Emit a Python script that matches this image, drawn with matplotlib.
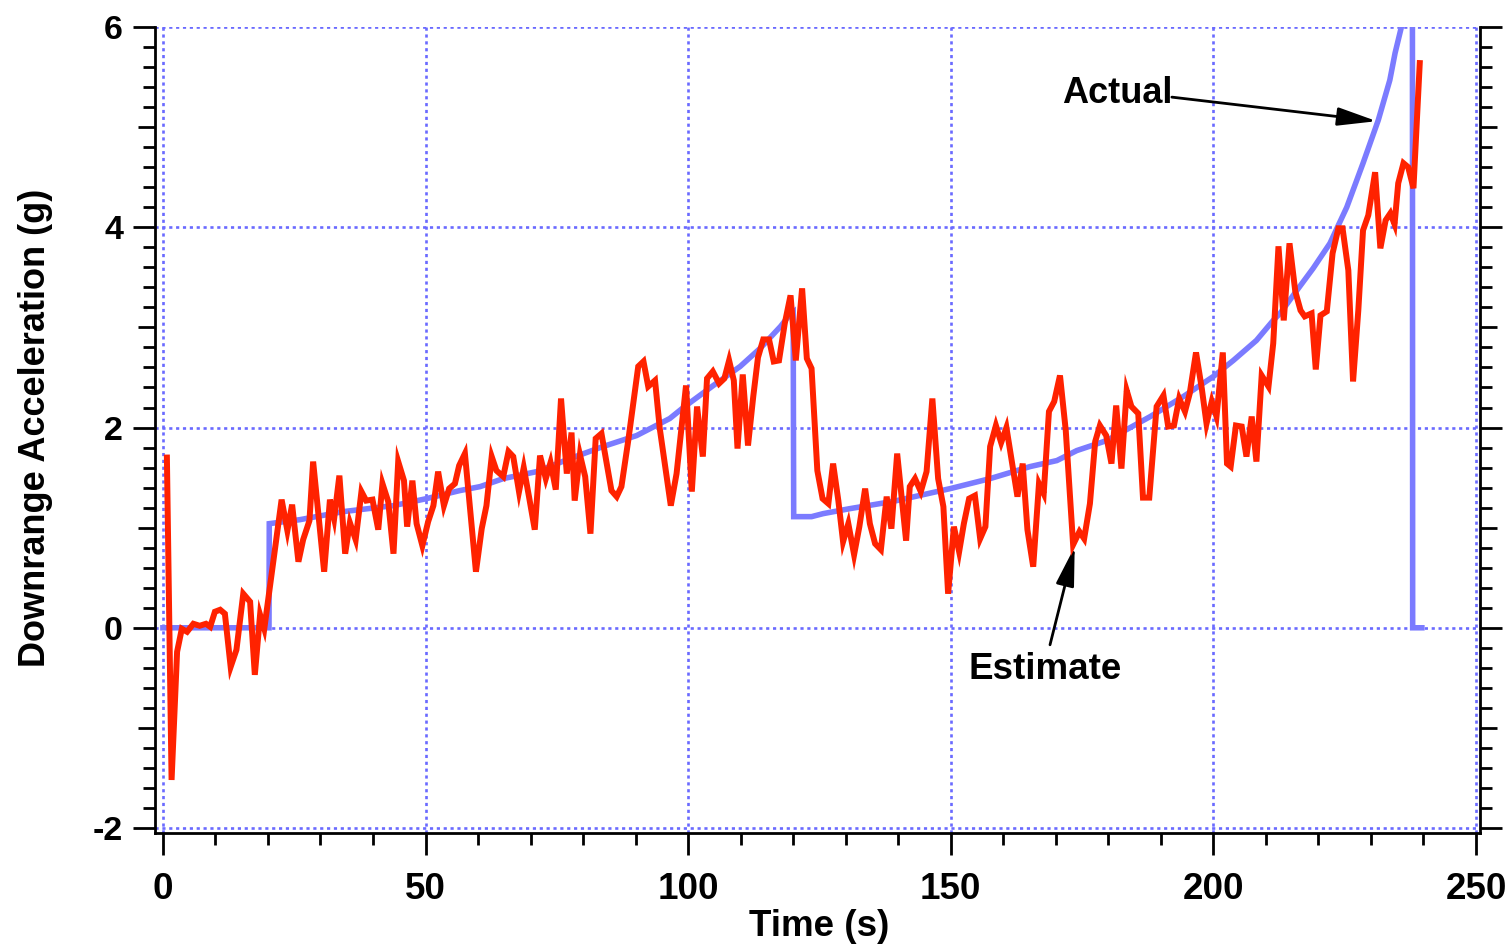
import matplotlib
matplotlib.use("Agg")
import matplotlib.pyplot as plt
import numpy as np

# ---------------- data ----------------
actual_t = [0, 20.2, 20.25, 26.1, 34.3, 43.9, 50.2, 56.5, 60.4, 64.8, 71.2, 77.5,
            83.8, 90.2, 96.5, 99.1, 104.8, 109.9, 113.7, 117.6, 119.1, 120.0,
            120.1, 123.5, 125.7, 130.8, 136.5, 139.7, 149.9, 157.5, 165.1, 170.2,
            174.0, 179.7, 188.0, 194.3, 200.0, 203.8, 208.2, 211.4, 212.7, 215.9,
            219.0, 222.2, 225.4, 228.5, 231.4, 233.6, 234.6, 235.8, 237.9, 237.95,
            239.7]
actual_g = [0, 0, 1.04, 1.08, 1.16, 1.22, 1.29, 1.37, 1.41, 1.49, 1.56, 1.69,
            1.81, 1.92, 2.09, 2.20, 2.42, 2.61, 2.79, 3.01, 3.11, 3.15,
            1.11, 1.11, 1.14, 1.19, 1.24, 1.27, 1.39, 1.49, 1.61, 1.67,
            1.77, 1.87, 2.11, 2.31, 2.51, 2.67, 2.87, 3.07, 3.14, 3.37,
            3.59, 3.84, 4.20, 4.64, 5.07, 5.47, 5.74, 6.0, 6.6, 0,
            0]

estimate_t = [0.76, 1.65, 2.7, 3.6, 4.6, 5.8, 7.0, 8.2, 9.0, 9.9, 10.9, 11.8, 12.9,
              14.0, 15.3, 16.6, 17.5, 18.5, 19.3, 22.6, 23.7, 24.6, 25.8, 26.7,
              27.9, 28.6, 30.7, 31.8, 32.6, 33.6, 34.7, 35.6, 36.7, 37.8, 38.7,
              39.9, 41.0, 41.8, 42.9, 43.9, 44.8, 45.9, 46.5, 47.5, 48.3, 49.4,
              50.5, 51.5, 52.4, 53.5, 54.5, 55.6, 56.4, 57.5, 59.6, 60.7, 61.6,
              62.6, 63.5, 64.8, 65.8, 66.7, 67.8, 68.7, 69.7, 70.8, 71.8, 72.9,
              73.8, 74.8, 75.8, 76.9, 77.8, 78.4, 79.4, 80.4, 81.4, 82.4, 83.5,
              84.6, 85.4, 86.4, 87.3, 88.6, 89.5, 90.5, 91.5, 92.4, 93.7, 94.6,
              96.7, 97.8, 99.6, 100.7, 101.7, 102.8, 103.6, 104.7, 105.9, 106.9,
              107.8, 108.7, 109.4, 110.4, 111.4, 112.4, 113.3, 114.3, 115.4, 116.3,
              117.3, 118.4, 119.5, 120.5, 121.7, 122.6, 123.5, 124.6, 125.6, 126.7,
              127.6, 128.6, 129.5, 130.5, 131.6, 132.6, 133.7, 134.6, 135.6, 136.7,
              137.8, 138.7, 139.8, 141.5, 142.2, 143.2, 144.3, 145.4, 146.5, 147.6,
              148.6, 149.5, 150.6, 151.6, 152.5, 153.5, 154.6, 155.6, 156.6, 157.5,
              158.6, 159.6, 160.6, 161.6, 162.7, 163.7, 164.6, 165.7, 166.8, 167.7,
              168.7, 169.7, 170.8, 171.9, 173.3, 174.5, 175.4, 176.5, 177.5, 178.4,
              179.6, 180.6, 181.5, 182.5, 183.5, 184.4, 185.7, 186.6, 187.8, 189.2,
              190.5, 191.4, 192.5, 193.5, 194.6, 195.5, 196.7, 197.8, 198.7, 199.7,
              200.6, 201.8, 202.6, 203.3, 204.3, 205.4, 206.3, 207.3, 208.2, 209.2,
              210.5, 211.4, 212.4, 213.4, 214.5, 215.6, 216.6, 217.4, 218.7, 219.5,
              220.4, 221.6, 222.7, 223.8, 224.6, 225.7, 226.6, 227.6, 228.5, 229.5,
              230.8, 231.8, 232.8, 233.7, 234.5, 235.2, 236.2, 237.1, 238.1, 239.3]
estimate_g = [1.70, -1.52, -0.24, -0.01, -0.04, 0.04, 0.02, 0.04, 0.01, 0.16, 0.18, 0.14, -0.39,
              -0.22, 0.34, 0.26, -0.47, 0.13, -0.01, 1.28, 0.97, 1.23, 0.66, 0.88,
              1.07, 1.66, 0.56, 1.28, 1.09, 1.52, 0.74, 1.05, 0.88, 1.36, 1.27,
              1.28, 0.98, 1.44, 1.26, 0.74, 1.66, 1.47, 1.01, 1.47, 1.04, 0.82,
              1.06, 1.22, 1.56, 1.22, 1.39, 1.44, 1.62, 1.74, 0.56, 0.99, 1.22,
              1.71, 1.57, 1.51, 1.76, 1.71, 1.36, 1.60, 1.31, 0.98, 1.72, 1.49,
              1.65, 1.38, 2.29, 1.54, 1.95, 1.27, 1.73, 1.51, 0.94, 1.89, 1.94,
              1.61, 1.37, 1.31, 1.41, 1.87, 2.22, 2.61, 2.66, 2.41, 2.47, 1.99,
              1.22, 1.54, 2.42, 1.36, 2.21, 1.71, 2.49, 2.56, 2.44, 2.49,
              2.67, 2.47, 1.79, 2.53, 1.82, 2.31, 2.70, 2.88, 2.88, 2.66,
              2.67, 3.04, 3.32, 2.67, 3.39, 2.69, 2.59, 1.57, 1.29, 1.24,
              1.64, 1.27, 0.86, 1.04, 0.73, 1.01, 1.39, 1.04, 0.84, 0.78,
              1.31, 0.99, 1.74, 0.87, 1.41, 1.49, 1.36, 1.56, 2.29, 1.49,
              1.21, 0.34, 1.01, 0.76, 1.04, 1.29, 1.32, 0.89, 1.01, 1.81,
              2.02, 1.85, 2.00, 1.67, 1.31, 1.64, 0.98, 0.61, 1.44, 1.34,
              2.16, 2.26, 2.52, 1.97, 0.83, 0.96, 0.89, 1.24, 1.86, 2.02,
              1.92, 1.64, 2.22, 1.59, 2.37, 2.21, 2.14, 1.30, 1.30, 2.21,
              2.32, 2.01, 2.02, 2.29, 2.16, 2.34, 2.75, 2.39, 2.04, 2.26,
              2.11, 2.75, 1.64, 1.61, 2.02, 2.01, 1.71, 2.11, 1.66, 2.52,
              2.41, 2.84, 3.81, 3.07, 3.84, 3.36, 3.17, 3.11, 3.14, 2.58,
              3.12, 3.16, 3.74, 3.99, 3.99, 3.57, 2.46, 3.17, 3.97, 4.12,
              4.55, 3.79, 4.07, 4.14, 4.03, 4.44, 4.64, 4.60, 4.39, 5.64]

x_major = [0, 50, 100, 150, 200, 250]
y_major = [-2, 0, 2, 4, 6]

# ---------------- figure ----------------
FONT = "Liberation Sans"
plt.rcParams["font.family"] = [FONT, "DejaVu Sans"]
plt.rcParams["font.weight"] = "bold"

fig = plt.figure(figsize=(15.1, 9.49), dpi=100)
ax = fig.add_axes([0.1026, 0.1222, 0.8775, 0.8493])

blue = "#7b7bff"
red = "#ff2200"
gridc = "#6a6aff"

ax.plot(actual_t, actual_g, color=blue, lw=4.0, solid_joinstyle="miter", zorder=3)
ax.plot(estimate_t, estimate_g, color=red, lw=4.3, solid_joinstyle="miter", zorder=4)

ax.set_xlim(-1.52, 250.76)
ax.set_ylim(-2.05, 6.0)

# spines
ax.spines["top"].set_visible(False)
for s in ("left", "bottom", "right"):
    ax.spines[s].set_linewidth(2.0)

# x ticks
ax.set_xticks(x_major)
ax.set_xticks([v for v in range(10, 250, 10) if v % 50 != 0], minor=True)
ax.tick_params(axis="x", which="major", direction="out", length=16, width=2,
               labelsize=26.5, pad=12, top=False)
ax.tick_params(axis="x", which="minor", direction="out", length=8.5, width=2, top=False)

# y ticks: every integer as major (labels on even), minor every 0.2
yint = list(range(-2, 7))
ax.set_yticks(yint)
ax.set_yticklabels([str(v) if v in y_major else "" for v in yint])
ymin = [round(v, 1) for v in np.arange(-2, 6.01, 0.2)]
ymin = [v for v in ymin if abs(v - round(v)) > 1e-6]
ax.set_yticks(ymin, minor=True)
ax.tick_params(axis="y", which="major", direction="out", length=16, width=2,
               labelsize=24.5, pad=7, left=True, right=True)
ax.tick_params(axis="y", which="minor", direction="out", length=8.5, width=2,
               left=True, right=True)
for v, tk in zip(yint, ax.yaxis.get_major_ticks()):
    if v not in y_major:
        tk.tick1line.set_markersize(12.5)
        tk.tick2line.set_markersize(12.5)

for lab in ax.get_xticklabels() + ax.get_yticklabels():
    lab.set_fontweight("bold")

# grid
ax.grid(True, which="major", color=gridc, lw=1.9, linestyle=(0, (1.2, 1.4)), zorder=1)
ax.set_axisbelow(True)
for v, tk in zip(yint, ax.yaxis.get_major_ticks()):
    if v not in y_major:
        tk.gridline.set_visible(False)

ax.set_xlabel("Time (s)", fontsize=26.5, fontweight="bold")
ax.set_ylabel("Downrange Acceleration (g)", fontsize=26, fontweight="bold")
ax.xaxis.set_label_coords(0.501, -0.094)
ax.yaxis.set_label_coords(-0.077, 0.503)

# annotations
ax.text(171.2, 5.24, "Actual", fontsize=26, fontweight="bold", ha="left", va="baseline")
ax.annotate("", xy=(231.1, 5.06), xytext=(192.1, 5.30),
            arrowprops=dict(arrowstyle="-|>,head_length=1.2,head_width=0.28",
                            mutation_scale=20, lw=2, color="black",
                            shrinkA=0, shrinkB=0))
ax.text(153.3, -0.51, "Estimate", fontsize=26.5, fontweight="bold", ha="left", va="baseline")
ax.annotate("", xy=(173.6, 0.81), xytext=(168.9, -0.17),
            arrowprops=dict(arrowstyle="-|>,head_length=1.2,head_width=0.28",
                            mutation_scale=20, lw=2, color="black",
                            shrinkA=0, shrinkB=0))

fig.savefig("out.png", dpi=100)
